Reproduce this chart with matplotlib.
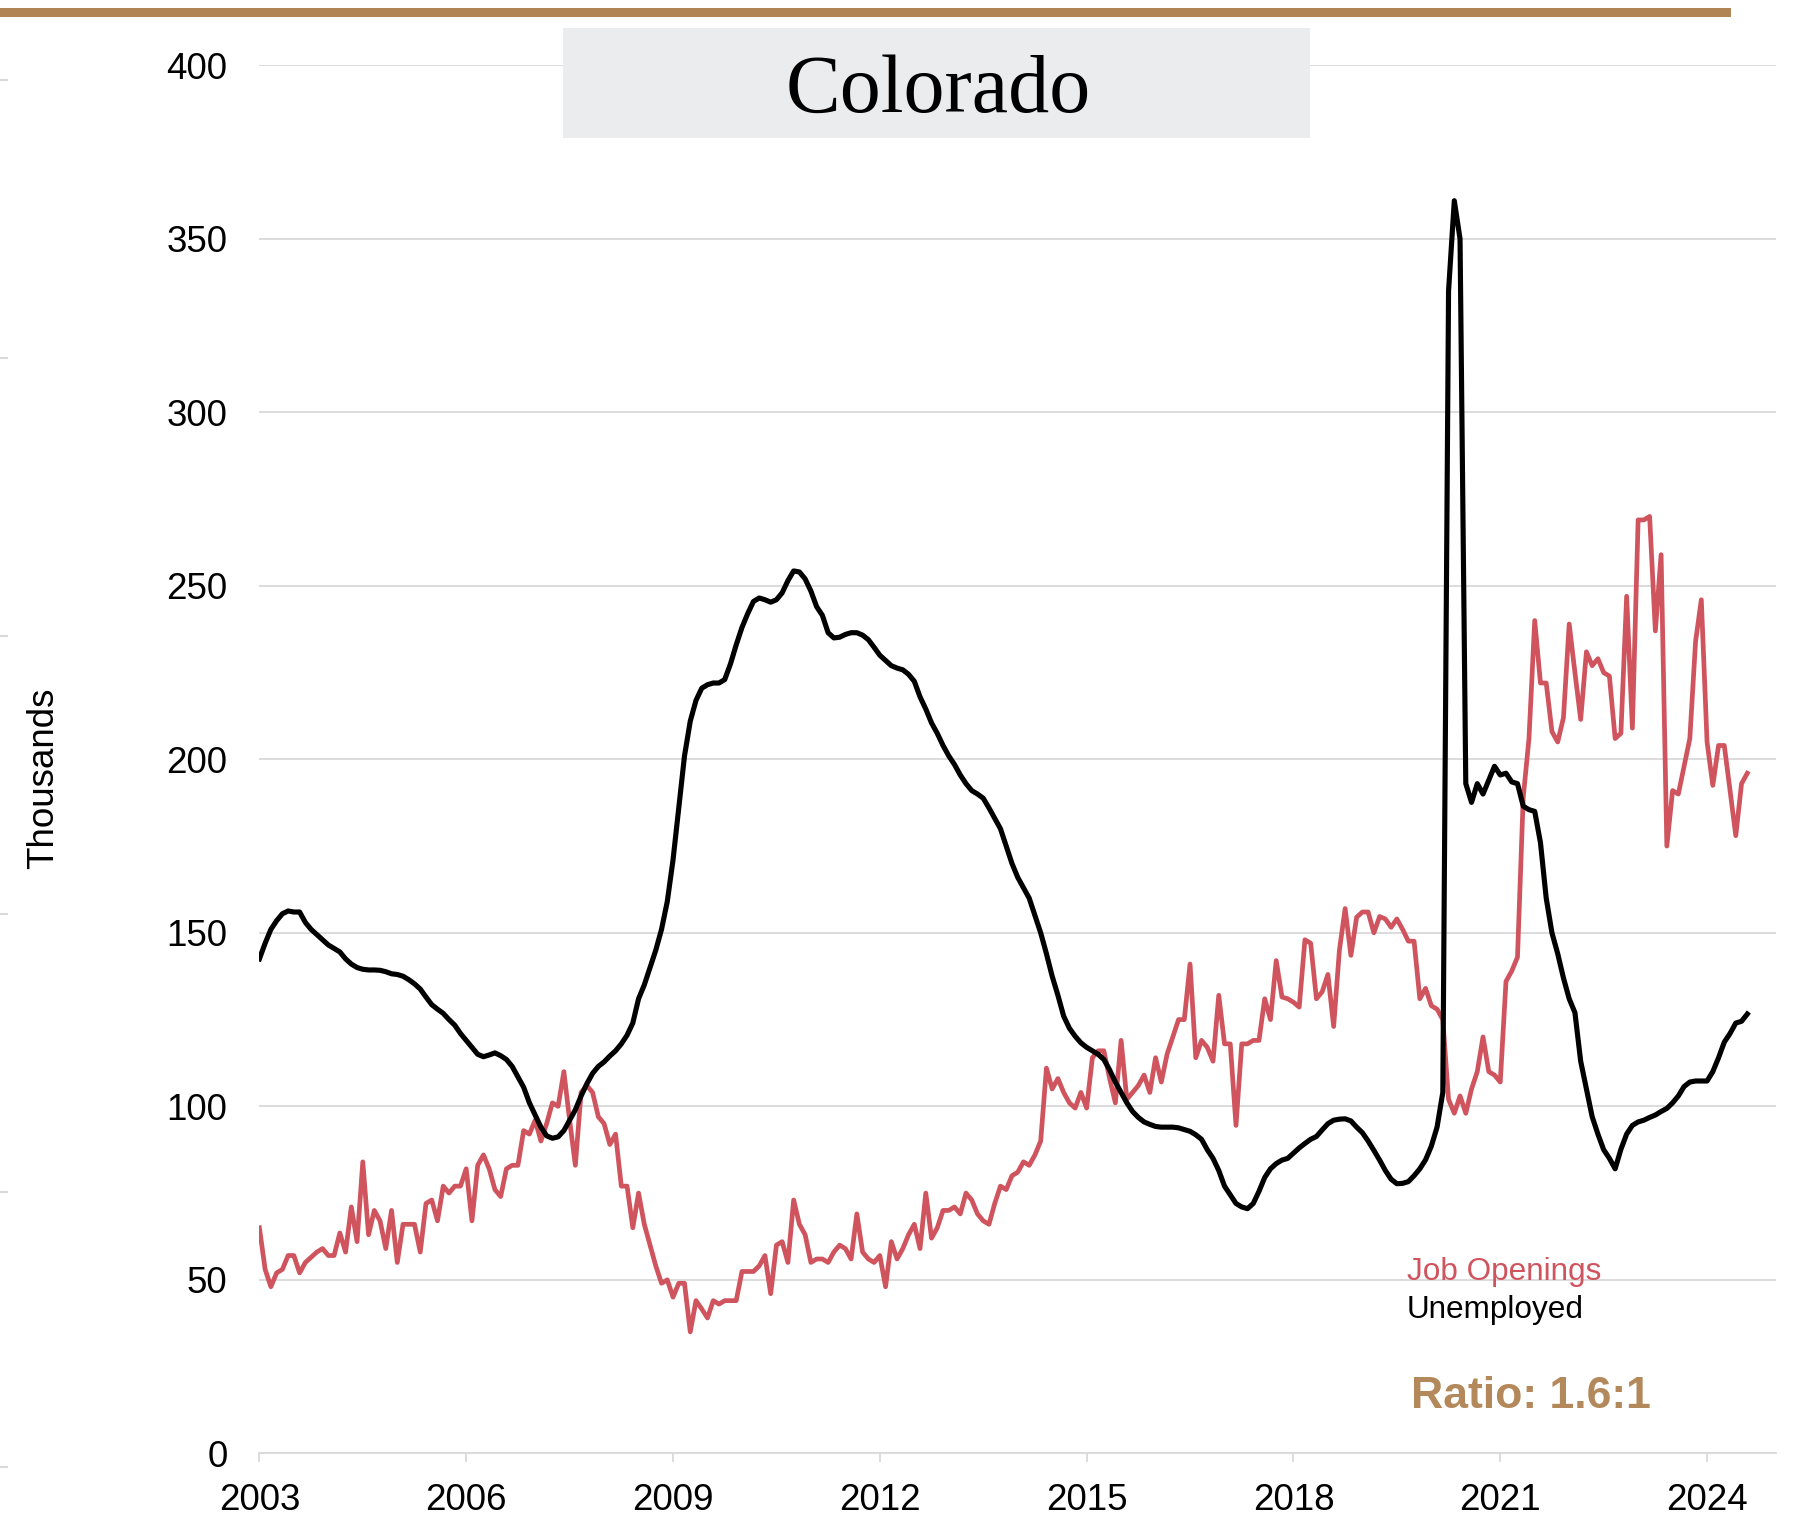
import matplotlib
matplotlib.use("Agg")
import matplotlib.pyplot as plt
import numpy as np
from matplotlib.patches import Rectangle
from matplotlib.lines import Line2D

# ---- data: monthly series, Jan 2003 onward (thousands) ----
start_year = 2003

job_openings = [
    65, 53, 48, 52, 53, 57, 57, 52, 55, 56.5,
    58, 59, 57, 57, 63.5, 58, 71, 61, 84, 63,
    70, 67, 59, 70, 55, 66, 66, 66, 58, 72,
    73, 67, 77, 75, 77, 77, 82, 67, 83, 86,
    82, 76, 74, 82, 83, 83, 93, 92, 96, 90,
    95, 101, 100, 110, 96, 83, 104, 106, 104, 97,
    95, 89, 92, 77, 77, 65, 75, 66, 60, 54,
    49, 50, 45, 49, 49, 35, 44, 41.6, 39, 44,
    43, 44, 44, 44, 52.4, 52.4, 52.4, 54, 57, 46,
    60, 61, 55, 73, 66, 63, 55, 56, 56, 55,
    58, 60, 59, 56, 69, 58, 56, 55, 57, 48,
    61, 56, 59, 63, 66, 59, 75, 62, 65, 70,
    70, 71, 69, 75, 73, 69, 67, 66, 72, 77,
    76, 80, 81, 84, 83, 86, 90, 111, 105, 108,
    104, 101, 99.5, 104, 99.5, 114, 116, 116, 108, 101,
    119, 102, 104, 106, 109, 104, 114, 107, 115, 120,
    125, 125, 141, 114, 119, 117, 113, 132, 118, 118,
    94.5, 118, 118, 119, 119, 131, 125, 142, 131.5, 131,
    130, 128.6, 148, 147, 131, 133, 138, 123, 145, 157,
    143.5, 154.5, 156, 156, 150, 154.7, 154, 151.6, 154, 151,
    147.6, 147.6, 131, 134, 129, 128, 125, 102, 98, 103,
    98, 105, 110, 120, 110, 109, 107, 136, 139, 143,
    189, 206, 240, 222, 222, 208, 205, 212, 239, 225,
    211.5, 231, 227, 229, 225, 224, 206, 207.5, 247, 209,
    269, 269, 270, 237, 259, 175, 191, 190, 198, 206,
    234, 246, 205, 192.5, 204, 204, 191, 178, 193, 196,
]

unemployed = [
    142.5, 147, 151, 153.5, 155.5, 156.3, 156, 156, 153, 151,
    149.5, 148, 146.5, 145.5, 144.5, 142.5, 141, 140, 139.5, 139.3,
    139.3, 139.2, 138.8, 138.2, 138, 137.5, 136.5, 135.3, 133.8, 131.5,
    129.3, 128, 126.8, 125, 123.4, 121, 119, 117, 115, 114.3,
    114.8, 115.4, 114.6, 113.5, 111.5, 108.5, 105.5, 101, 97.5, 94,
    91.5, 90.8, 91.2, 93, 96, 99, 103, 106.5, 109.5, 111.5,
    112.8, 114.5, 116, 118, 120.5, 124, 131, 135, 140, 145,
    151, 159, 171, 186, 201, 211, 217, 220.5, 221.5, 222,
    222, 223, 227.5, 233, 238, 242, 245.5, 246.5, 246, 245.3,
    246, 248, 251.5, 254.3, 254, 252, 248.5, 244, 241.5, 236.5,
    235, 235.2, 236, 236.5, 236.5, 235.8, 234.5, 232.3, 230, 228.5,
    227, 226.3, 225.8, 224.5, 222.5, 218, 214.5, 210.5, 207.5, 204,
    201, 198.5, 195.5, 193, 191, 190, 188.8, 186, 183, 180,
    175, 170, 166, 163, 160, 155, 150, 144, 137.5, 132,
    126, 122.5, 120.2, 118.3, 117, 116, 115, 113.5, 110.5, 107,
    104, 101, 98.5, 96.8, 95.5, 94.8, 94.2, 94, 94, 94,
    93.8, 93.3, 92.8, 91.8, 90.5, 87.5, 85, 81.5, 77, 74.5,
    72, 71, 70.5, 72, 75.5, 79.5, 82, 83.5, 84.5, 85,
    86.5, 88, 89.3, 90.5, 91.3, 93.2, 95, 96, 96.3, 96.4,
    95.8, 94, 92.4, 90, 87.3, 84.5, 81.5, 79, 77.7, 77.8,
    78.3, 80, 82, 84.6, 88.5, 94, 104, 335, 361, 350,
    193, 187.6, 193, 190, 194, 198, 195.5, 196, 193.5, 193,
    186.5, 185.5, 185, 176, 160, 150, 144, 137, 131, 127,
    113, 105, 97, 92, 87.5, 85, 82, 87.6, 92, 94.5,
    95.5, 96, 96.8, 97.5, 98.5, 99.4, 101, 103, 105.7, 107,
    107.3, 107.3, 107.3, 110, 114, 118.5, 121, 124, 124.5, 126.6,
]

year_ticks = [2003, 2006, 2009, 2012, 2015, 2018, 2021, 2024]
value_ticks = [0, 50, 100, 150, 200, 250, 300, 350, 400]

state_name = "Colorado"
ratio_label = "Ratio: 1.6:1"
series_labels = ["Job Openings", "Unemployed"]

# ---- styling ----
RED = "#CF545E"
BLACK = "#000000"
GRID = "#D9D9D9"
BRONZE = "#B08454"
BOX = "#EBECEE"

plt.rcParams["font.family"] = ["Liberation Sans", "DejaVu Sans"]

W, H = 1800, 1534
fig = plt.figure(figsize=(W / 100, H / 100), dpi=100)
fig.patch.set_facecolor("white")

left, right, bottom, top = 259.4, 1776.0, 1453.3, 65.4
ax = fig.add_axes([left / W, 1 - bottom / H, (right - left) / W, (bottom - top) / H])

months = start_year + np.arange(len(job_openings)) / 12.0
ax.plot(months, job_openings, color=RED, lw=3.4, zorder=3)
ax.plot(months[:len(unemployed)], unemployed, color=BLACK, lw=3.7, zorder=4)

ax.set_xlim(2003, 2025)
ax.set_ylim(0, 400)
ax.set_yticks(value_ticks)
ax.set_xticks(year_ticks)
ax.set_xticklabels([str(y) for y in year_ticks])
ax.grid(axis="y", color=GRID, lw=1.3, zorder=0)
ax.set_axisbelow(True)
for s in ("top", "right", "left"):
    ax.spines[s].set_visible(False)
ax.spines["bottom"].set_color(GRID)
ax.spines["bottom"].set_linewidth(1.3)
ax.tick_params(axis="x", length=6.5, width=1.3, color=GRID, labelsize=26.5, pad=15)
ax.tick_params(axis="y", length=0, labelsize=26.5, pad=23)

# axis title
fig.text(44 / W, 1 - 778 / H, "Thousands", rotation=90, ha="center", va="center",
         fontsize=26.5)

# series labels and ratio
fig.text(1407 / W, 1 - 1280 / H, series_labels[0], color=RED, fontsize=22.7,
         ha="left", va="baseline")
fig.text(1407 / W, 1 - 1317.7 / H, series_labels[1], color=BLACK, fontsize=22.7,
         ha="left", va="baseline")
fig.text(1411 / W, 1 - 1408 / H, ratio_label, color="#B3885A", fontsize=32.1,
         fontweight="bold", ha="left", va="baseline")

# header rule and title box
fig.add_artist(Rectangle((0, 1 - 17 / H), 1731 / W, 9 / H, transform=fig.transFigure,
                         facecolor=BRONZE, edgecolor="none", zorder=10))
fig.add_artist(Rectangle((563 / W, 1 - 138 / H), (1310 - 563) / W, 110 / H,
                         transform=fig.transFigure, facecolor=BOX, edgecolor="none",
                         zorder=10))
fig.text(938 / W, 1 - 111.4 / H, state_name, fontfamily="Liberation Serif",
         fontsize=59, ha="center", va="baseline", zorder=11)

# small marks along the left edge
for yy in [80, 358, 636, 914, 1192, 1467]:
    fig.add_artist(Line2D([0, 7 / W], [1 - yy / H, 1 - yy / H], transform=fig.transFigure,
                          color=GRID, lw=1.5))

fig.savefig("out.png", dpi=100, facecolor="white")
